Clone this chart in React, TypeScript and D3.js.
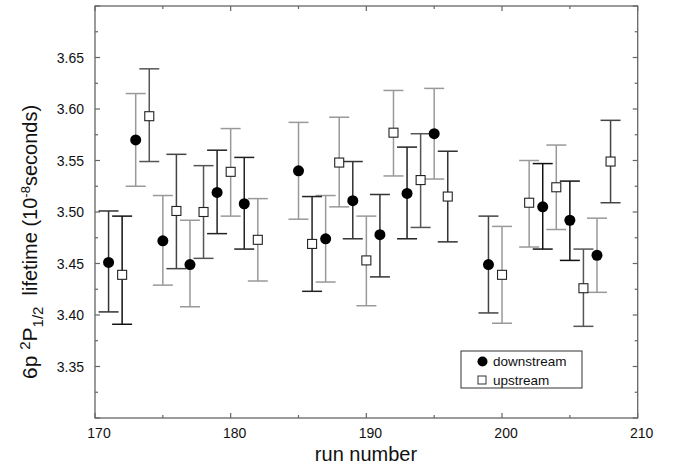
import React from "react";
import * as d3 from "d3";

const downRuns = [171, 173, 175, 177, 179, 181, 185, 187, 189, 191, 193, 195, 199, 203, 205, 207];
const downVals = [3.451, 3.570, 3.472, 3.449, 3.519, 3.508, 3.540, 3.474, 3.511, 3.478, 3.518, 3.576, 3.449, 3.505, 3.492, 3.458];
const downHi = [3.501, 3.615, 3.516, 3.492, 3.560, 3.553, 3.587, 3.516, 3.549, 3.517, 3.563, 3.620, 3.496, 3.547, 3.530, 3.494];
const downLo = [3.403, 3.525, 3.429, 3.408, 3.479, 3.464, 3.493, 3.432, 3.474, 3.437, 3.474, 3.532, 3.402, 3.464, 3.453, 3.422];

const upRuns = [172, 174, 176, 178, 180, 182, 186, 188, 190, 192, 194, 196, 200, 202, 204, 206, 208];
const upVals = [3.439, 3.593, 3.501, 3.500, 3.539, 3.473, 3.469, 3.548, 3.453, 3.577, 3.531, 3.515, 3.439, 3.509, 3.524, 3.426, 3.549];
const upHi = [3.496, 3.639, 3.556, 3.545, 3.581, 3.513, 3.515, 3.592, 3.496, 3.618, 3.576, 3.559, 3.486, 3.550, 3.565, 3.464, 3.589];
const upLo = [3.391, 3.549, 3.445, 3.455, 3.496, 3.433, 3.423, 3.505, 3.409, 3.535, 3.485, 3.471, 3.392, 3.466, 3.483, 3.389, 3.509];

const xTickLabels = [170, 180, 190, 200, 210];
const yTickLabels = [3.35, 3.4, 3.45, 3.5, 3.55, 3.6, 3.65];

// per-point error-bar shade (scan tone), separate from data
const downShade = ["#333", "#999", "#999", "#999", "#222", "#222", "#999", "#999", "#333", "#333", "#222", "#999", "#444", "#111", "#111", "#999"];
const upShade = ["#111", "#555", "#444", "#555", "#999", "#999", "#222", "#999", "#999", "#999", "#555", "#333", "#999", "#999", "#999", "#555", "#444"];

const W = 675;
const H = 468;
const L = 95;
const R = 637.7;
const T = 6;
const B = 418;

export default function App() {
  const x = d3.scaleLinear().domain([170, 210]).range([L, R]);
  const y = d3.scaleLinear().domain([3.3, 3.7]).range([B, T]);
  const font = "'Liberation Sans', Arial, Helvetica, sans-serif";
  const cap = 10;
  const axisColor = "#666";

  const xMinor = d3.range(170, 210.01, 5);
  const yMinor = d3.range(3.3, 3.7001, 0.025);

  const bar = (run: number, lo: number, hi: number, shade: string, key: string) => {
    const cx = x(run);
    return (
      <g key={key} stroke={shade} strokeWidth={1.5} fill="none">
        <line x1={cx} x2={cx} y1={y(hi)} y2={y(lo)} />
        <line x1={cx - cap} x2={cx + cap} y1={y(hi)} y2={y(hi)} />
        <line x1={cx - cap} x2={cx + cap} y1={y(lo)} y2={y(lo)} />
      </g>
    );
  };

  return (
    <svg width={W} height={H} style={{ display: "block", position: "absolute", left: 0, top: 0 }} fontFamily={font}>
      <rect x={0} y={0} width={W} height={H} fill="#fff" />
      <rect x={L} y={T} width={R - L} height={B - T} fill="none" stroke={axisColor} strokeWidth={1.3} />
      {xMinor.map((v, i) => {
        const len = Math.round(v) % 10 === 0 ? 5 : 3;
        return (
          <g key={"xt" + i} stroke={axisColor} strokeWidth={1.2}>
            <line x1={x(v)} x2={x(v)} y1={B} y2={B - len} />
            <line x1={x(v)} x2={x(v)} y1={T} y2={T + len} />
          </g>
        );
      })}
      {yMinor.map((v, i) => {
        const len = i % 2 === 0 ? 5 : 3;
        return (
          <g key={"yt" + i} stroke={axisColor} strokeWidth={1.2}>
            <line x1={L} x2={L + len} y1={y(v)} y2={y(v)} />
            <line x1={R} x2={R - len} y1={y(v)} y2={y(v)} />
          </g>
        );
      })}
      {xTickLabels.map((v) => (
        <text key={"xl" + v} x={x(v) + 4} y={438} fontSize={14} textAnchor="middle" fill="#111">
          {v}
        </text>
      ))}
      {yTickLabels.map((v) => (
        <text key={"yl" + v} x={84} y={y(v) + 5} fontSize={14} textAnchor="end" fill="#111">
          {v.toFixed(2)}
        </text>
      ))}
      <text x={366} y={461} fontSize={20} textAnchor="middle" fill="#111">
        run number
      </text>
      <text transform="translate(37,379) rotate(-90)" textAnchor="start" fill="#111" style={{ whiteSpace: "pre" }}>
        <tspan fontSize={21}>6p </tspan>
        <tspan fontSize={15} dy={-7}>2</tspan>
        <tspan fontSize={21} dy={7}>P</tspan>
        <tspan fontSize={15} dy={6}>1/2</tspan>
        <tspan fontSize={20} dy={-6}>{"  lifetime (10"}</tspan>
        <tspan fontSize={13} dy={-7}>-8</tspan>
        <tspan fontSize={20} dy={7}>seconds)</tspan>
      </text>

      {downRuns.map((r, i) => bar(r, downLo[i], downHi[i], downShade[i], "db" + i))}
      {upRuns.map((r, i) => bar(r, upLo[i], upHi[i], upShade[i], "ub" + i))}
      {downRuns.map((r, i) => (
        <circle key={"dc" + i} cx={x(r)} cy={y(downVals[i])} r={5.5} fill="#000" />
      ))}
      {upRuns.map((r, i) => (
        <rect key={"us" + i} x={x(r) - 4.5} y={y(upVals[i]) - 4.5} width={9} height={9} fill="#fff" stroke="#222" strokeWidth={1.1} />
      ))}

      <rect x={461} y={351} width={121} height={37} fill="#fff" stroke="#333" strokeWidth={1} />
      <circle cx={482.5} cy={361.5} r={5} fill="#000" />
      <text x={493} y={366} fontSize={13.5} fill="#111">downstream</text>
      <rect x={478} y={376} width={8} height={8} fill="#fff" stroke="#333" strokeWidth={1} />
      <text x={493} y={384.5} fontSize={13.5} fill="#111">upstream</text>
    </svg>
  );
}
